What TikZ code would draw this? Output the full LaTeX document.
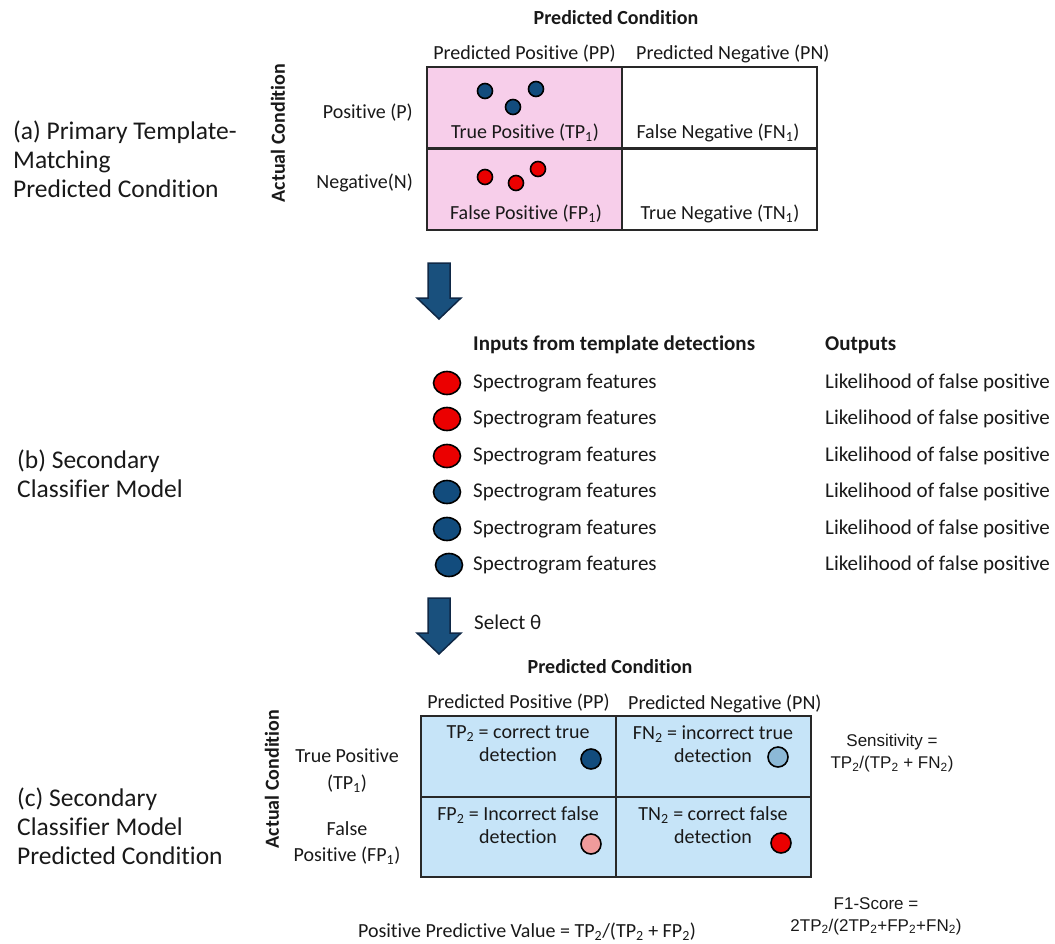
\documentclass[tikz,border=0pt]{standalone}
\usepackage{fontspec}
\setmainfont{Carlito}[Ligatures=NoCommon]
\newfontfamily\arialf{Liberation Sans}
\usetikzlibrary{shapes.geometric}
\definecolor{pinkfill}{RGB}{247,206,234}
\definecolor{bluefill}{RGB}{198,228,248}
\definecolor{dkblue}{RGB}{18,76,125}
\definecolor{arrowblue}{RGB}{25,80,125}
\definecolor{arrowedge}{RGB}{15,40,70}
\definecolor{ltblue}{RGB}{140,185,215}
\definecolor{ptred}{RGB}{235,0,0}
\definecolor{ltpink}{RGB}{240,155,155}
\definecolor{tcol}{RGB}{25,25,25}
\definecolor{gridcol}{RGB}{40,40,40}
\begin{document}
\begin{tikzpicture}[x=1pt,y=-1pt,
  lbl/.style={inner sep=0pt, text=tcol, font=\fontsize{20}{23}\selectfont},
  hdr/.style={inner sep=0pt, text=tcol, font=\bfseries\fontsize{20}{23}\selectfont},
  sidelbl/.style={inner sep=0pt, text=tcol, align=left, anchor=west, font=\fontsize{25.5}{29}\selectfont},
  listitem/.style={inner sep=0pt, text=tcol, anchor=west, font=\fontsize{21}{24}\selectfont},
  listhdr/.style={inner sep=0pt, text=tcol, anchor=west, font=\bfseries\fontsize{21}{24}\selectfont},
  frm/.style={inner sep=0pt, text=tcol, align=center, font=\arialf\fontsize{17}{22}\selectfont},
  cellbox/.style={draw=gridcol, line width=2pt, inner sep=0pt, outer sep=0pt, minimum width=195pt, minimum height=81pt},
  ball/.style={circle, draw=black, line width=1.6pt, inner sep=0pt, minimum size=#1},
  ball/.default=15pt,
  oval/.style={ellipse, draw=black, line width=1.6pt, inner sep=0pt, minimum width=27pt, minimum height=23pt},
  bigarrow/.style={fill=arrowblue, draw=arrowedge, line width=1.5pt, line join=miter},
]
\useasboundingbox (0,0) rectangle (1055,943);

% ---------- (a) top matrix ----------
\node[hdr] (pc1) at (616,18) {Predicted Condition};
\node[lbl] (pp1) at (524.5,54) {Predicted Positive (PP)};
\node[lbl, anchor=west] (pn1) at (636,54) {Predicted Negative (PN)};
\node[cellbox, fill=pinkfill] (a11) at (524.5,107.5) {};
\node[cellbox] (a12) at (719,107.5) {};
\node[cellbox, fill=pinkfill] (a21) at (524.5,189) {};
\node[cellbox] (a22) at (719,189) {};
\node[lbl] (tp1) at (525,133) {True Positive (TP\textsubscript{1})};
\node[lbl] (fn1) at (718,133) {False Negative (FN\textsubscript{1})};
\node[lbl] (fp1) at (526,214) {False Positive (FP\textsubscript{1})};
\node[lbl] (tn1) at (720,214) {True Negative (TN\textsubscript{1})};
\node[lbl, anchor=east] (rp1) at (413,113) {Positive (P)};
\node[lbl, anchor=east] (rn1) at (413,183) {Negative(N)};
\node[hdr, rotate=90] (ac1) at (278,133) {Actual Condition};
\node[ball, fill=dkblue] (b1) at (485,91) {};
\node[ball, fill=dkblue] (b2) at (536,89) {};
\node[ball, fill=dkblue] (b3) at (513,107) {};
\node[ball, fill=ptred] (r1) at (485,177) {};
\node[ball, fill=ptred] (r2) at (516,183) {};
\node[ball, fill=ptred] (r3) at (538,169) {};
\node[sidelbl] (la) at (13,159) {(a) Primary Template-\\Matching\\Predicted Condition};

% ---------- arrow 1 ----------
\draw[bigarrow] (428,263) -- (450,263) -- (450,298) -- (461,298) -- (439,319) -- (417,298) -- (428,298) -- cycle;

% ---------- (b) list ----------
\node[sidelbl] (lb) at (17,474) {(b) Secondary\\Classifier Model};
\node[listhdr] (inh) at (473,345) {Inputs from template detections};
\node[listhdr] (outh) at (825,345) {Outputs};
\foreach \i/\y/\xx/\c in {1/383/447/ptred, 2/419/447/ptred, 3/456/447/ptred, 4/492/447/dkblue, 5/529/447/dkblue, 6/565/449/dkblue}{
  \node[oval, fill=\c] (e\i) at (\xx,\y) {};
  \node[listitem] (sf\i) at (473,\y) {Spectrogram features};
  \node[listitem] (lk\i) at (825,\y) {Likelihood of false positive};
}

% ---------- arrow 2 ----------
\draw[bigarrow] (428,598) -- (450,598) -- (450,633) -- (461,633) -- (439,654) -- (417,633) -- (428,633) -- cycle;
\node[listitem] (sel) at (474,622) {Select θ};

% ---------- (c) bottom matrix ----------
\node[sidelbl] (lc) at (17,826) {(c) Secondary\\Classifier Model\\Predicted Condition};
\node[hdr] (pc2) at (610,667) {Predicted Condition};
\node[lbl] (pp2) at (518.5,703) {Predicted Positive (PP)};
\node[lbl, anchor=west] (pn2) at (628,704) {Predicted Negative (PN)};
\node[cellbox, fill=bluefill] (c11) at (518.5,756.5) {};
\node[cellbox, fill=bluefill] (c12) at (713.5,756.5) {};
\node[cellbox, fill=bluefill, minimum height=80pt] (c21) at (518.5,837) {};
\node[cellbox, fill=bluefill, minimum height=80pt] (c22) at (713.5,837) {};
\node[lbl, align=center] (tp2) at (518,744) {TP\textsubscript{2} = correct true\\detection};
\node[lbl, align=center] (fn2) at (713,744) {FN\textsubscript{2} = incorrect true\\detection};
\node[lbl, align=center] (fp2) at (518,825) {FP\textsubscript{2} = Incorrect false\\detection};
\node[lbl, align=center] (tn2) at (713,825) {TN\textsubscript{2} = correct false\\detection};
\node[ball=20pt, fill=dkblue] (d1) at (591,759) {};
\node[ball=20pt, fill=ltblue] (d2) at (778,757) {};
\node[ball=20pt, fill=ltpink] (d3) at (591,844) {};
\node[ball=20pt, fill=ptred] (d4) at (781,843) {};
\node[lbl, align=center, font=\fontsize{20}{27}\selectfont] (rtp) at (347,771) {True Positive\\(TP\textsubscript{1})};
\node[lbl, align=center, font=\fontsize{20}{26}\selectfont] (rfp) at (347,843) {False\\Positive (FP\textsubscript{1})};
\node[hdr, rotate=90] (ac2) at (272,779) {Actual Condition};
\node[lbl] (ppv) at (527,932) {Positive Predictive Value = TP\textsubscript{2}/(TP\textsubscript{2} + FP\textsubscript{2})};
\node[frm] (sens) at (892,753) {Sensitivity =\\TP\textsubscript{2}/(TP\textsubscript{2} + FN\textsubscript{2})};
\node[frm] (f1) at (876,916) {F1-Score =\\2TP\textsubscript{2}/(2TP\textsubscript{2}+FP\textsubscript{2}+FN\textsubscript{2})};
\end{tikzpicture}
\end{document}
